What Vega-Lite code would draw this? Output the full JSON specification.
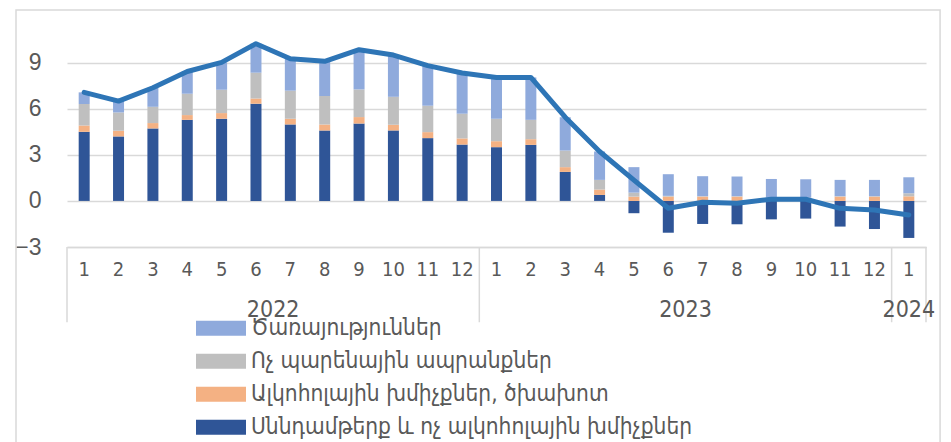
{
  "$schema": "https://vega.github.io/schema/vega-lite/v6.json",
  "autosize": {"type": "none"},
  "width": 859,
  "height": 215,
  "padding": {"left": 67, "top": 32, "right": 25, "bottom": 195},
  "background": "white",
  "config": {
    "view": {"stroke": null},
    "font": "Liberation Sans Narrow, DejaVu Sans Condensed, sans-serif",
    "axis": {"labelColor": "#595959", "labelFont": "Liberation Sans Narrow, DejaVu Sans Condensed, sans-serif"}
  },
  "datasets": {
    "cpi": [
      {"c": "2022-1", "p1": 4.5, "p2": 0.41, "p3": 1.4, "p4": 0.76, "t": 7.07},
      {"c": "2022-2", "p1": 4.2, "p2": 0.37, "p3": 1.19, "p4": 0.74, "t": 6.5},
      {"c": "2022-3", "p1": 4.72, "p2": 0.35, "p3": 1.06, "p4": 1.24, "t": 7.37},
      {"c": "2022-4", "p1": 5.28, "p2": 0.31, "p3": 1.39, "p4": 1.45, "t": 8.43},
      {"c": "2022-5", "p1": 5.35, "p2": 0.37, "p3": 1.52, "p4": 1.78, "t": 9.02},
      {"c": "2022-6", "p1": 6.33, "p2": 0.34, "p3": 1.68, "p4": 1.89, "t": 10.24},
      {"c": "2022-7", "p1": 4.98, "p2": 0.37, "p3": 1.83, "p4": 2.08, "t": 9.26},
      {"c": "2022-8", "p1": 4.59, "p2": 0.39, "p3": 1.85, "p4": 2.26, "t": 9.09},
      {"c": "2022-9", "p1": 5.04, "p2": 0.42, "p3": 1.8, "p4": 2.59, "t": 9.85},
      {"c": "2022-10", "p1": 4.59, "p2": 0.37, "p3": 1.82, "p4": 2.72, "t": 9.5},
      {"c": "2022-11", "p1": 4.09, "p2": 0.39, "p3": 1.72, "p4": 2.61, "t": 8.81},
      {"c": "2022-12", "p1": 3.67, "p2": 0.4, "p3": 1.61, "p4": 2.65, "t": 8.33},
      {"c": "2023-1", "p1": 3.5, "p2": 0.39, "p3": 1.46, "p4": 2.69, "t": 8.04},
      {"c": "2023-2", "p1": 3.65, "p2": 0.37, "p3": 1.26, "p4": 2.76, "t": 8.04},
      {"c": "2023-3", "p1": 1.89, "p2": 0.31, "p3": 1.08, "p4": 2.17, "t": 5.45},
      {"c": "2023-4", "p1": 0.39, "p2": 0.35, "p3": 0.63, "p4": 1.85, "t": 3.22},
      {"c": "2023-5", "p1": -0.8, "p2": 0.28, "p3": 0.26, "p4": 1.66, "t": 1.35},
      {"c": "2023-6", "p1": -2.07, "p2": 0.28, "p3": 0.05, "p4": 1.41, "t": -0.48},
      {"c": "2023-7", "p1": -1.5, "p2": 0.28, "p3": 0.03, "p4": 1.3, "t": -0.09},
      {"c": "2023-8", "p1": -1.52, "p2": 0.28, "p3": 0.03, "p4": 1.28, "t": -0.15},
      {"c": "2023-9", "p1": -1.2, "p2": 0.12, "p3": 0.1, "p4": 1.21, "t": 0.11},
      {"c": "2023-10", "p1": -1.15, "p2": 0.12, "p3": 0.1, "p4": 1.19, "t": 0.11},
      {"c": "2023-11", "p1": -1.67, "p2": 0.28, "p3": 0.03, "p4": 1.06, "t": -0.48},
      {"c": "2023-12", "p1": -1.83, "p2": 0.28, "p3": 0.03, "p4": 1.06, "t": -0.59},
      {"c": "2024-1", "p1": -2.41, "p2": 0.3, "p3": 0.2, "p4": 1.04, "t": -0.91}
    ],
    "years": [
      {"year": "2022", "pos": 6},
      {"year": "2023", "pos": 18},
      {"year": "2024", "pos": 24.5}
    ],
    "seps": [
      {"pos": 0, "top": -3, "bottom": -7.9},
      {"pos": 12, "top": -3, "bottom": -7.9},
      {"pos": 24, "top": -3, "bottom": -7.9},
      {"pos": 25, "top": -3, "bottom": -7.9}
    ],
    "frame": [
      {"x1": -1.484, "x2": 25.41, "y1": 12.43, "y2": -16.5}
    ]
  },
  "layer": [
    {
      "layer": [
        {
          "data": {"name": "cpi"},
          "transform": [{"fold": ["p1", "p2", "p3", "p4"], "as": ["key", "value"]}],
          "mark": {"type": "bar", "width": {"band": 0.32}},
          "encoding": {
            "x": {
              "field": "c", "type": "nominal", "sort": null,
              "scale": {"paddingInner": 0, "paddingOuter": 0},
              "axis": {
                "title": null, "labelAngle": 0, "ticks": false, "grid": false,
                "domainColor": "#d9d9d9", "domainWidth": 1.5,
                "labelFontSize": 20, "labelPadding": 12,
                "labelExpr": "split(datum.label, '-')[1]"
              }
            },
            "y": {
              "field": "value", "type": "quantitative", "stack": "zero",
              "scale": {"domain": [-3, 11], "nice": false, "zero": false},
              "axis": {
                "title": null, "values": [-3, 0, 3, 6, 9], "domain": false, "ticks": false,
                "gridColor": "#d9d9d9", "gridWidth": 1.5,
                "labelFontSize": 23, "labelPadding": 26,
                "labelFont": "Liberation Sans, DejaVu Sans, sans-serif"
              }
            },
            "color": {
              "field": "key", "type": "nominal",
              "scale": {"domain": ["p4", "p3", "p2", "p1"], "range": ["#8faadc", "#bfbfbf", "#f4b183", "#2f5597"]},
              "legend": {
                "orient": "none", "legendX": 129, "legendY": 280, "title": null,
                "symbolType": "M-1,-0.3H1V0.3H-1Z", "symbolSize": 2500, "symbolStrokeWidth": 0,
                "symbolOpacity": 1, "clipHeight": 32.5, "rowPadding": 0, "padding": 0,
                "labelFontSize": 22.5, "labelColor": "#595959", "labelOffset": 5, "labelLimit": 700,
                "labelFont": "Liberation Sans Narrow, DejaVu Sans Condensed, sans-serif",
                "labelExpr": "datum.label == 'p4' ? 'Ծառայություններ' : datum.label == 'p3' ? 'Ոչ պարենային ապրանքներ' : datum.label == 'p2' ? 'Ալկոհոլային խմիչքներ, ծխախոտ' : 'Սննդամթերք և ոչ ալկոհոլային խմիչքներ'"
              }
            },
            "order": {"field": "key", "sort": "ascending"}
          }
        },
        {
          "data": {"name": "cpi"},
          "mark": {"type": "line", "color": "#2e75b6", "strokeWidth": 5, "strokeCap": "round", "strokeJoin": "round"},
          "encoding": {
            "x": {"field": "c", "type": "nominal", "sort": null},
            "y": {"field": "t", "type": "quantitative"}
          }
        }
      ]
    },
    {
      "data": {"name": "seps"},
      "mark": {"type": "rule", "color": "#d9d9d9", "strokeWidth": 1.5, "clip": false},
      "encoding": {
        "x": {"field": "pos", "type": "quantitative", "scale": {"domain": [0, 25], "nice": false, "zero": false}, "axis": null},
        "y": {"field": "top", "type": "quantitative"},
        "y2": {"field": "bottom"}
      }
    },
    {
      "data": {"name": "years"},
      "mark": {"type": "text", "fontSize": 23, "color": "#595959", "baseline": "middle", "align": "center", "clip": false, "font": "Liberation Sans Narrow, DejaVu Sans Condensed, sans-serif"},
      "encoding": {
        "x": {"field": "pos", "type": "quantitative", "scale": {"domain": [0, 25], "nice": false, "zero": false}, "axis": null},
        "y": {"datum": -7.1, "type": "quantitative"},
        "text": {"field": "year", "type": "nominal"}
      }
    },
    {
      "data": {"name": "frame"},
      "mark": {"type": "rect", "fill": null, "fillOpacity": 0, "stroke": "#d9d9d9", "strokeWidth": 1.5, "clip": false},
      "encoding": {
        "x": {"field": "x1", "type": "quantitative", "scale": {"domain": [0, 25], "nice": false, "zero": false}, "axis": null},
        "x2": {"field": "x2"},
        "y": {"field": "y1", "type": "quantitative"},
        "y2": {"field": "y2"}
      }
    }
  ],
  "resolve": {"scale": {"x": "independent"}}
}
